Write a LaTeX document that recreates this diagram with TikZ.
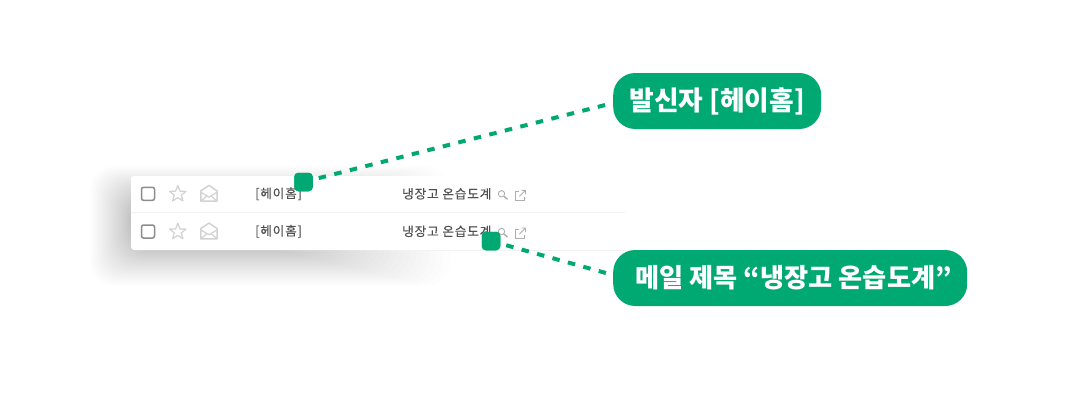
\documentclass[tikz,border=0pt]{standalone}
\usepackage{fontspec}
\setmainfont{Noto Sans CJK KR}
\newfontfamily\krfont{Noto Sans CJK KR}
\newfontfamily\krsmall[LetterSpace=6,FakeBold=0.25]{Noto Sans CJK KR}
\definecolor{brandgreen}{HTML}{00A971}
\definecolor{icongray}{HTML}{8C8C8C}
\definecolor{iconlight}{HTML}{D2D2D2}
\definecolor{mailtext}{HTML}{505050}
\tikzset{
  x=1pt,y=-1pt,
  pill/.style={fill=brandgreen,text=white,rounded corners=22pt,minimum height=56pt,inner sep=0pt,font=\krfont\bfseries\fontsize{26.3}{26.3}\selectfont,anchor=west},
  bullet/.style={fill=brandgreen,rounded corners=4pt,minimum width=18.5pt,minimum height=18.5pt,inner sep=0pt},
  link/.style={draw=brandgreen,line width=4pt,dash pattern=on 7.5pt off 8.5pt,dash phase=10pt},
  mailtxt/.style={text=mailtext,font=\krsmall\fontsize{12.7}{12.7}\selectfont,inner sep=0pt,anchor=west},
  boxicon/.style={draw=icongray,line width=1.5pt,rounded corners=2pt},
  lighticon/.style={draw=iconlight,line width=1.2pt,line join=round},
  smallicon/.style={draw=icongray!70,line width=0.9pt},
  pics/mailrow/.style={code={
    \draw[boxicon] (141.5,-6.5) rectangle (154.5,6.5);
    \draw[lighticon] (177.8,-8.2) -- (180,-2.6) -- (186,-2.4) -- (181.3,1.4) -- (183,7.2) -- (177.8,3.9) -- (172.6,7.2) -- (174.3,1.4) -- (169.6,-2.4) -- (175.6,-2.6) -- cycle;
    \draw[lighticon,line width=1.5pt] (200.8,-3) -- (209,-8.4) -- (217,-3) -- (217,7.4) -- (200.8,7.4) -- cycle;
    \draw[lighticon] (200.8,-1.5) -- (209,3.2) -- (217,-1.5);
    \draw[lighticon] (200.8,7.4) -- (207,2) (217,7.4) -- (211,2);
    \draw[smallicon] (501.5,0) circle (3.2pt);
    \draw[smallicon,line width=1.4pt] (504,2.5) -- (507.5,5.5);
    \draw[smallicon] (519,-2) -- (515.5,-2) -- (515.5,7) -- (524.5,7) -- (524.5,3);
    \draw[smallicon] (519.5,2.5) -- (525.5,-3.5) (521.5,-3.5) -- (525.5,-3.5) -- (525.5,0.5);
  }}
}
\begin{document}
\begin{tikzpicture}
\useasboundingbox (0,0) rectangle (1080,400);
\fill[white] (0,0) rectangle (1080,400);
% soft shadow: stacked translucent layers, widely spaced at the outer edge
\foreach \i in {0,...,100}{
  \pgfmathsetmacro{\p}{1-(1-\i/100)^2.5}
  \fill[black,opacity=0.009,rounded corners=24pt]
    ({90+70*\p},{166+54*\p}) rectangle ({450-280*\p},{286-66*\p});
}
% card
\fill[white,rounded corners=3pt] (131,176) rectangle (680,250);
\draw[black!5,line width=0.8pt] (131,212.5) -- (625,212.5);
\draw[black!5,line width=0.8pt] (400,250.3) -- (625,250.3);
% rows
\pic at (0,193.8) {mailrow};
\pic at (0,231.5) {mailrow};
\node[mailtxt] (sender1) at (255,193.8) {[헤이홈]};
\node[mailtxt] (subject1) at (402,193.8) {냉장고 온습도계};
\node[mailtxt] (sender2) at (255,231.3) {[헤이홈]};
\node[mailtxt] (subject2) at (402,231.3) {냉장고 온습도계};
% callouts
\node[bullet] (dot1) at (303.5,182) {};
\node[bullet] (dot2) at (491,241) {};
\node[pill,minimum width=208pt,font=\krfont\bfseries\fontsize{26.8}{26.8}\selectfont] (pill1) at (613,101) {발신자 [헤이홈]};
\node[pill,minimum width=354pt,font=\krfont\bfseries\fontsize{26.2}{26.2}\selectfont] (pill2) at (613,278) {\hspace*{7pt}메일 제목 “냉장고 온습도계”};
\draw[link] (dot1) -- ([yshift=-2pt]pill1.west);
\draw[link] (dot2) -- ([yshift=3pt]pill2.west);
\node[bullet] at (dot1) {};
\node[bullet] at (dot2) {};
\end{tikzpicture}
\end{document}
